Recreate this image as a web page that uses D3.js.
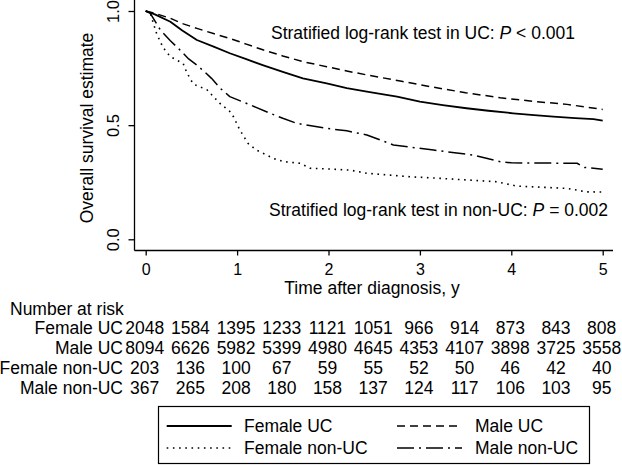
<!DOCTYPE html>
<html><head><meta charset="utf-8">
<script src="https://cdn.jsdelivr.net/npm/d3@7"></script>
<style>
html,body{margin:0;padding:0;background:#fff;}
svg{display:block;font-family:"Liberation Sans",Arial,Helvetica,sans-serif;}
</style></head>
<body>
<svg id="chart" width="622" height="465"></svg>
<script>
// ---- data ----
const femaleUC = [[0,1],[0.1,0.985],[0.27,0.953],[0.4,0.915],[0.56,0.873],[0.75,0.843],[0.92,0.815],[1.1,0.789],[1.28,0.763],[1.5,0.733],[1.72,0.705],[1.98,0.683],[2.2,0.662],[2.42,0.647],[2.6,0.635],[2.75,0.625],[3.0,0.603],[3.25,0.588],[3.51,0.574],[3.75,0.563],[4.02,0.552],[4.25,0.544],[4.46,0.537],[4.7,0.531],[4.9,0.526],[5.0,0.52]];
const maleUC = [[0,1],[0.1,0.99],[0.27,0.968],[0.4,0.945],[0.56,0.924],[0.75,0.9],[0.92,0.88],[1.1,0.855],[1.29,0.829],[1.5,0.803],[1.72,0.778],[1.98,0.756],[2.2,0.737],[2.42,0.72],[2.8,0.692],[3.15,0.666],[3.5,0.642],[3.88,0.62],[4.25,0.604],[4.61,0.591],[5.0,0.569]];
const femaleNonUC = [[0,1],[0.05,0.99],[0.12,0.9],[0.19,0.84],[0.27,0.8],[0.41,0.77],[0.45,0.73],[0.52,0.68],[0.67,0.655],[0.81,0.596],[0.92,0.56],[0.96,0.537],[1.03,0.479],[1.12,0.42],[1.21,0.391],[1.4,0.354],[1.51,0.34],[1.69,0.333],[1.8,0.311],[2.0,0.308],[2.24,0.303],[2.42,0.289],[2.89,0.274],[3.22,0.267],[3.84,0.252],[4.06,0.233],[4.61,0.223],[4.82,0.208],[5.0,0.207]];
const maleNonUC = [[0,1],[0.05,0.99],[0.16,0.917],[0.27,0.87],[0.375,0.829],[0.47,0.79],[0.56,0.763],[0.64,0.735],[0.72,0.705],[0.82,0.66],[0.92,0.625],[1.1,0.596],[1.36,0.552],[1.5,0.53],[1.65,0.508],[1.98,0.486],[2.2,0.475],[2.42,0.457],[2.6,0.43],[2.71,0.413],[3.15,0.391],[3.58,0.369],[3.88,0.34],[4.0,0.335],[4.72,0.333],[4.8,0.315],[5.0,0.307]];

const xTicks = [0,1,2,3,4,5];
const yTicks = [0,0.5,1];
const riskTimes = [0,0.5,1,1.5,2,2.5,3,3.5,4,4.5,5];
const riskLabels = ["Female UC","Male UC","Female non-UC","Male non-UC"];
const riskFemaleUC = [2048,1584,1395,1233,1121,1051,966,914,873,843,808];
const riskMaleUC = [8094,6626,5982,5399,4980,4645,4353,4107,3898,3725,3558];
const riskFemaleNonUC = [203,136,100,67,59,55,52,50,46,42,40];
const riskMaleNonUC = [367,265,208,180,158,137,124,117,106,103,95];

// ---- drawing ----
const FS = 17.5;
const svg = d3.select("#chart");
const x = d3.scaleLinear().domain([0,5]).range([145.7,602.7]);
const y = d3.scaleLinear().domain([0,1]).range([239.3,11]);

const series = [
  {name:"Female UC", data:femaleUC, dash:null, w:1.8},
  {name:"Male UC", data:maleUC, dash:"8,5", w:1.5},
  {name:"Female non-UC", data:femaleNonUC, dash:"1.6,4.6", w:1.6},
  {name:"Male non-UC", data:maleNonUC, dash:"17,5,2,5", w:1.5}
];

// axes
const ax = svg.append("g").attr("stroke","#000").attr("stroke-width",1.3);
ax.append("line").attr("x1",134.5).attr("x2",134.5).attr("y1",0).attr("y2",250.5);
ax.append("line").attr("x1",134.5).attr("x2",613).attr("y1",250.5).attr("y2",250.5);

const yAxis = svg.append("g").attr("transform","translate(134.5,0)")
  .call(d3.axisLeft(y).tickValues(yTicks).tickFormat(d3.format(".1f")).tickSize(6).tickPadding(0));
yAxis.select(".domain").remove();
yAxis.selectAll(".tick line").attr("stroke","#000").attr("stroke-width",1.3);
yAxis.selectAll(".tick text")
  .attr("x",0).attr("dy",null)
  .attr("transform","translate(-15.5,0) rotate(-90)")
  .attr("text-anchor","middle")
  .attr("font-size",16.5).attr("font-family","Liberation Sans, Arial, sans-serif").attr("fill","#000");

const xAxis = svg.append("g").attr("transform","translate(0,250.5)")
  .call(d3.axisBottom(x).tickValues(xTicks).tickFormat(d3.format("d")).tickSize(5).tickPadding(0));
xAxis.select(".domain").remove();
xAxis.selectAll(".tick line").attr("stroke","#000").attr("stroke-width",1.3);
xAxis.selectAll(".tick text").attr("y",0).attr("dy",null).attr("transform","translate(0,24)")
  .attr("font-size",16).attr("font-family","Liberation Sans, Arial, sans-serif").attr("fill","#000");

// axis titles
svg.append("text").attr("transform","translate(93,128) rotate(-90)").attr("text-anchor","middle")
  .attr("font-size",FS).text("Overall survival estimate");
svg.append("text").attr("x",372).attr("y",294).attr("text-anchor","middle")
  .attr("font-size",FS).text("Time after diagnosis, y");

// curves
const line = d3.line().x(d=>x(d[0])).y(d=>y(d[1]));
series.forEach(s=>{
  svg.append("path").datum(s.data).attr("d",line).attr("fill","none")
    .attr("stroke","#000").attr("stroke-width",s.w)
    .attr("stroke-dasharray",s.dash).attr("stroke-linejoin","round");
});

// annotations
function annot(xp, yp, pre, post){
  const t = svg.append("text").attr("x",xp).attr("y",yp).attr("font-size",FS);
  t.append("tspan").text(pre);
  t.append("tspan").attr("font-style","italic").text("P");
  t.append("tspan").text(post);
}
annot(271, 39, "Stratified log-rank test in UC: ", " < 0.001");
annot(269, 216, "Stratified log-rank test in non-UC: ", " = 0.002");

// number at risk table
svg.append("text").attr("x",10).attr("y",314.5).attr("font-size",FS).text("Number at risk");
const riskRows = [riskFemaleUC, riskMaleUC, riskFemaleNonUC, riskMaleNonUC];
riskRows.forEach((row,i)=>{
  const yb = 334 + i*20;
  svg.append("text").attr("x",123).attr("y",yb).attr("text-anchor","end").attr("font-size",FS).text(riskLabels[i]);
  svg.append("g").selectAll("text").data(row).join("text")
    .attr("x",(d,j)=>x(riskTimes[j])-1).attr("y",yb).attr("text-anchor","middle")
    .attr("font-size",FS).attr("font-family","Liberation Sans Narrow, Arial Narrow, sans-serif")
    .attr("font-stretch","condensed")
    .text(d=>d);
});

// legend
svg.append("rect").attr("x",158.5).attr("y",406.5).attr("width",431).attr("height",57)
  .attr("fill","none").attr("stroke","#000").attr("stroke-width",1.2);
const legPos = [[166.7,231.7,244,426],[397,462,475,426],[166.7,231.7,244,448],[397,462,475,448]];
series.forEach((s,i)=>{
  const p = legPos[i];
  svg.append("line").attr("x1",p[0]).attr("x2",p[1]).attr("y1",p[3]).attr("y2",p[3])
    .attr("stroke","#000").attr("stroke-width",s.w).attr("stroke-dasharray",s.dash);
  svg.append("text").attr("x",p[2]).attr("y",p[3]+5.5).attr("font-size",FS).text(s.name);
});
</script>
</body></html>
